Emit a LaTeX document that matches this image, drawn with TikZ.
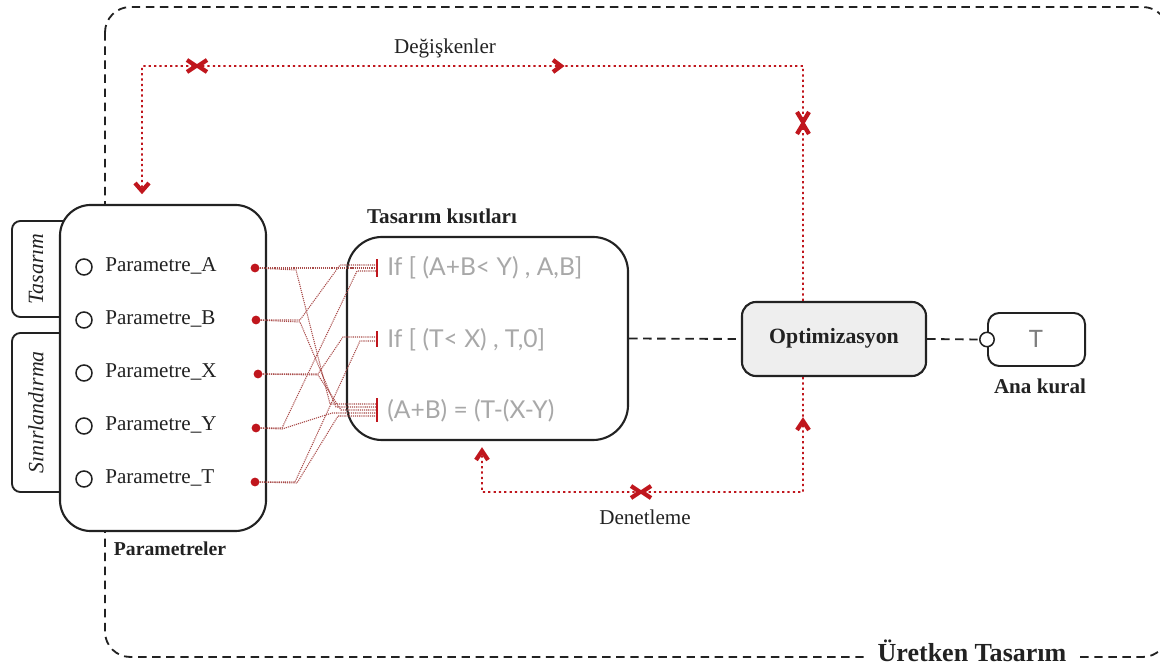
\documentclass[tikz,border=0pt]{standalone}
\usepackage{fontspec}
\setmainfont{Liberation Serif}
\newfontfamily\consfont{Lato}
\usetikzlibrary{arrows.meta}
\definecolor{accent}{HTML}{C0161D}
\definecolor{wire}{HTML}{A84A48}
\definecolor{constext}{HTML}{A8A8A8}
\definecolor{optfill}{HTML}{EEEEEE}
\definecolor{ink}{HTML}{222222}

\begin{document}
\begin{tikzpicture}[x=0.025cm,y=-0.025cm,
  lbl/.style={font=\fontsize{15}{18}\selectfont, text=ink},
  boldlbl/.style={font=\fontsize{15}{18}\selectfont\bfseries, text=ink},
  box/.style={draw=ink, line width=1.5pt, fill=white},
  tab/.style={draw=ink, line width=1.3pt, fill=white, rounded corners=6pt},
  port/.style={circle, draw=ink, line width=1.1pt, fill=white, minimum size=0.4cm, inner sep=0pt},
  reddot/.style={circle, fill=accent, minimum size=0.22cm, inner sep=0pt},
  cons/.style={font=\consfont\fontsize{17.5}{20}\selectfont, text=constext, anchor=west, inner sep=0pt},
  wirestyle/.style={draw=wire, line width=0.75pt, dash pattern=on 0.8pt off 0.7pt,
    -{Bar[width=8pt,line width=1.2pt,color=accent]}},
  outline/.style={draw=ink, line width=1.3pt, dash pattern=on 6pt off 4pt},
  link/.style={draw=ink, line width=1.3pt, dash pattern=on 6pt off 4pt},
  loop/.style={draw=accent, line width=1.4pt, dash pattern=on 1.6pt off 2.2pt},
  chev/.style={draw=accent, line width=3pt, line join=miter, line cap=butt},
]
\useasboundingbox (0,0) rectangle (1160,668);

% generative design frame
\draw[outline, rounded corners=18pt] (105,7) rectangle (1168,657);
\node[font=\fontsize{18.5}{22}\selectfont\bfseries, text=ink, fill=white, inner xsep=9pt, inner ysep=2pt] (gen) at (972,651) {Üretken Tasarım};

% side tabs
\node[tab, minimum width=1.7cm, minimum height=2.4cm] (tabA) at (46,269) {};
\node[tab, minimum width=1.7cm, minimum height=3.975cm] (tabB) at (46,412.5) {};
\node[lbl, rotate=90, font=\fontsize{15.5}{18}\selectfont\itshape] at (36,269) {Tasarım};
\node[lbl, rotate=90, font=\fontsize{15.5}{18}\selectfont\itshape] at (36,412.5) {Sınırlandırma};

% parameter block
\node[box, rounded corners=22pt, minimum width=5.15cm, minimum height=8.15cm] (par) at (163,368) {};
\node[boldlbl, font=\fontsize{14}{17}\selectfont\bfseries] (parT) at (170,549) {Parametreler};

\foreach \n/\y in {A/267,B/320,X/373,Y/426,T/479}{
  \node[port] (p\n) at (84,\y) {};
  \node[lbl, anchor=west, inner sep=0pt] (l\n) at (105,\y-1) {Parametre\_\n};
}
\node[reddot] (dA) at (255,268) {};
\node[reddot] (dB) at (256,320) {};
\node[reddot] (dX) at (258,374) {};
\node[reddot] (dY) at (256,428) {};
\node[reddot] (dT) at (255,482) {};

% constraint block
\node[box, rounded corners=25pt, minimum width=7.025cm, minimum height=5.075cm] (con) at (487.5,338.5) {};
\node[boldlbl] (conT) at (442,216) {Tasarım kısıtları};
\node[cons] (c1) at (387,268) {If [ (A+B< Y) , A,B]};
\node[cons] (c2) at (387,340) {If [ (T< X) , T,0]};
\node[cons] (c3) at (387,411) {(A+B) = (T-(X-Y)};

% wire ends at the constraints
\coordinate (t1a) at (378,265);
\coordinate (t1b) at (378,268);
\coordinate (t1c) at (378,271);
\coordinate (t2a) at (378,337);
\coordinate (t2b) at (378,341);
\coordinate (t3a) at (378,404);
\coordinate (t3b) at (378,407);
\coordinate (t3c) at (378,410);
\coordinate (t3d) at (378,413);
\coordinate (t3e) at (378,416);

\begin{scope}[every path/.style={wirestyle}]
\draw (dA) -- (t1b);
\draw (dA) -- (296,270) -- (330,404) -- (t3a);
\draw (dB) -- (300,320) -- (340,265) -- (t1a);
\draw (dB) -- (300,322) -- (336,407) -- (t3b);
\draw (dX) -- (318,374) -- (343,337) -- (t2a);
\draw (dX) -- (318,375) -- (341,410) -- (t3c);
\draw (dY) -- (282,428) -- (357,271) -- (t1c);
\draw (dY) -- (282,429) -- (332,413) -- (t3d);
\draw (dT) -- (295,482) -- (360,341) -- (t2b);
\draw (dT) -- (297,483) -- (338,416) -- (t3e);
\end{scope}

% optimisation and main rule
\node[box, fill=optfill, rounded corners=10pt, minimum width=4.6cm, minimum height=1.85cm] (opt) at (834,339) {};
\node[boldlbl, font=\fontsize{15.5}{18}\selectfont\bfseries] (optT) at (834,338) {Optimizasyon};
\node[box, line width=1.4pt, rounded corners=8pt, minimum width=2.425cm, minimum height=1.325cm] (ana) at (1036.5,339.5) {};
\node[font=\consfont\fontsize{17}{19}\selectfont, text=constext!75!black] (anaT) at (1036,339) {T};
\node[port, minimum size=0.36cm] (anaP) at (ana.west) {};
\node[boldlbl] (anaL) at (1040,386) {Ana kural};

\draw[link] (con.east) -- (opt.west);
\draw[link] (opt.east) -- (anaP.west);

% variables loop (top)
\coordinate (v1) at (803,66);
\coordinate (v2) at (142,66);
\coordinate (v3) at (142,192);
\draw[loop] ([xshift=-0.775cm]opt.north) -- (v1) -- (v2) -- (v3);
\node[lbl] (varT) at (445,48) {Değişkenler};

% control loop (bottom)
\coordinate (k1) at (803,492);
\coordinate (k2) at (482,492);
\coordinate (k3) at (482,452);
\draw[loop] ([xshift=-0.775cm]opt.south) -- (k1) -- (k2) -- (k3);
\node[lbl] (ctlT) at (645,517) {Denetleme};

% markers on the loops
\draw[chev] (135,183) -- (142,191) -- (149,183);
\draw[chev] (187,60) -- (196,66) -- (187,72);
\draw[chev] (207,60) -- (198,66) -- (207,72);
\draw[chev] (553,60) -- (561,66) -- (553,72);
\draw[chev] (797,112) -- (803,122) -- (809,112);
\draw[chev] (797,134) -- (803,124) -- (809,134);
\draw[chev] (797,430) -- (803,421) -- (809,430);
\draw[chev] (476,460) -- (482,451) -- (488,460);
\draw[chev] (631,486) -- (640,492) -- (631,498);
\draw[chev] (651,486) -- (642,492) -- (651,498);
\end{tikzpicture}
\end{document}
